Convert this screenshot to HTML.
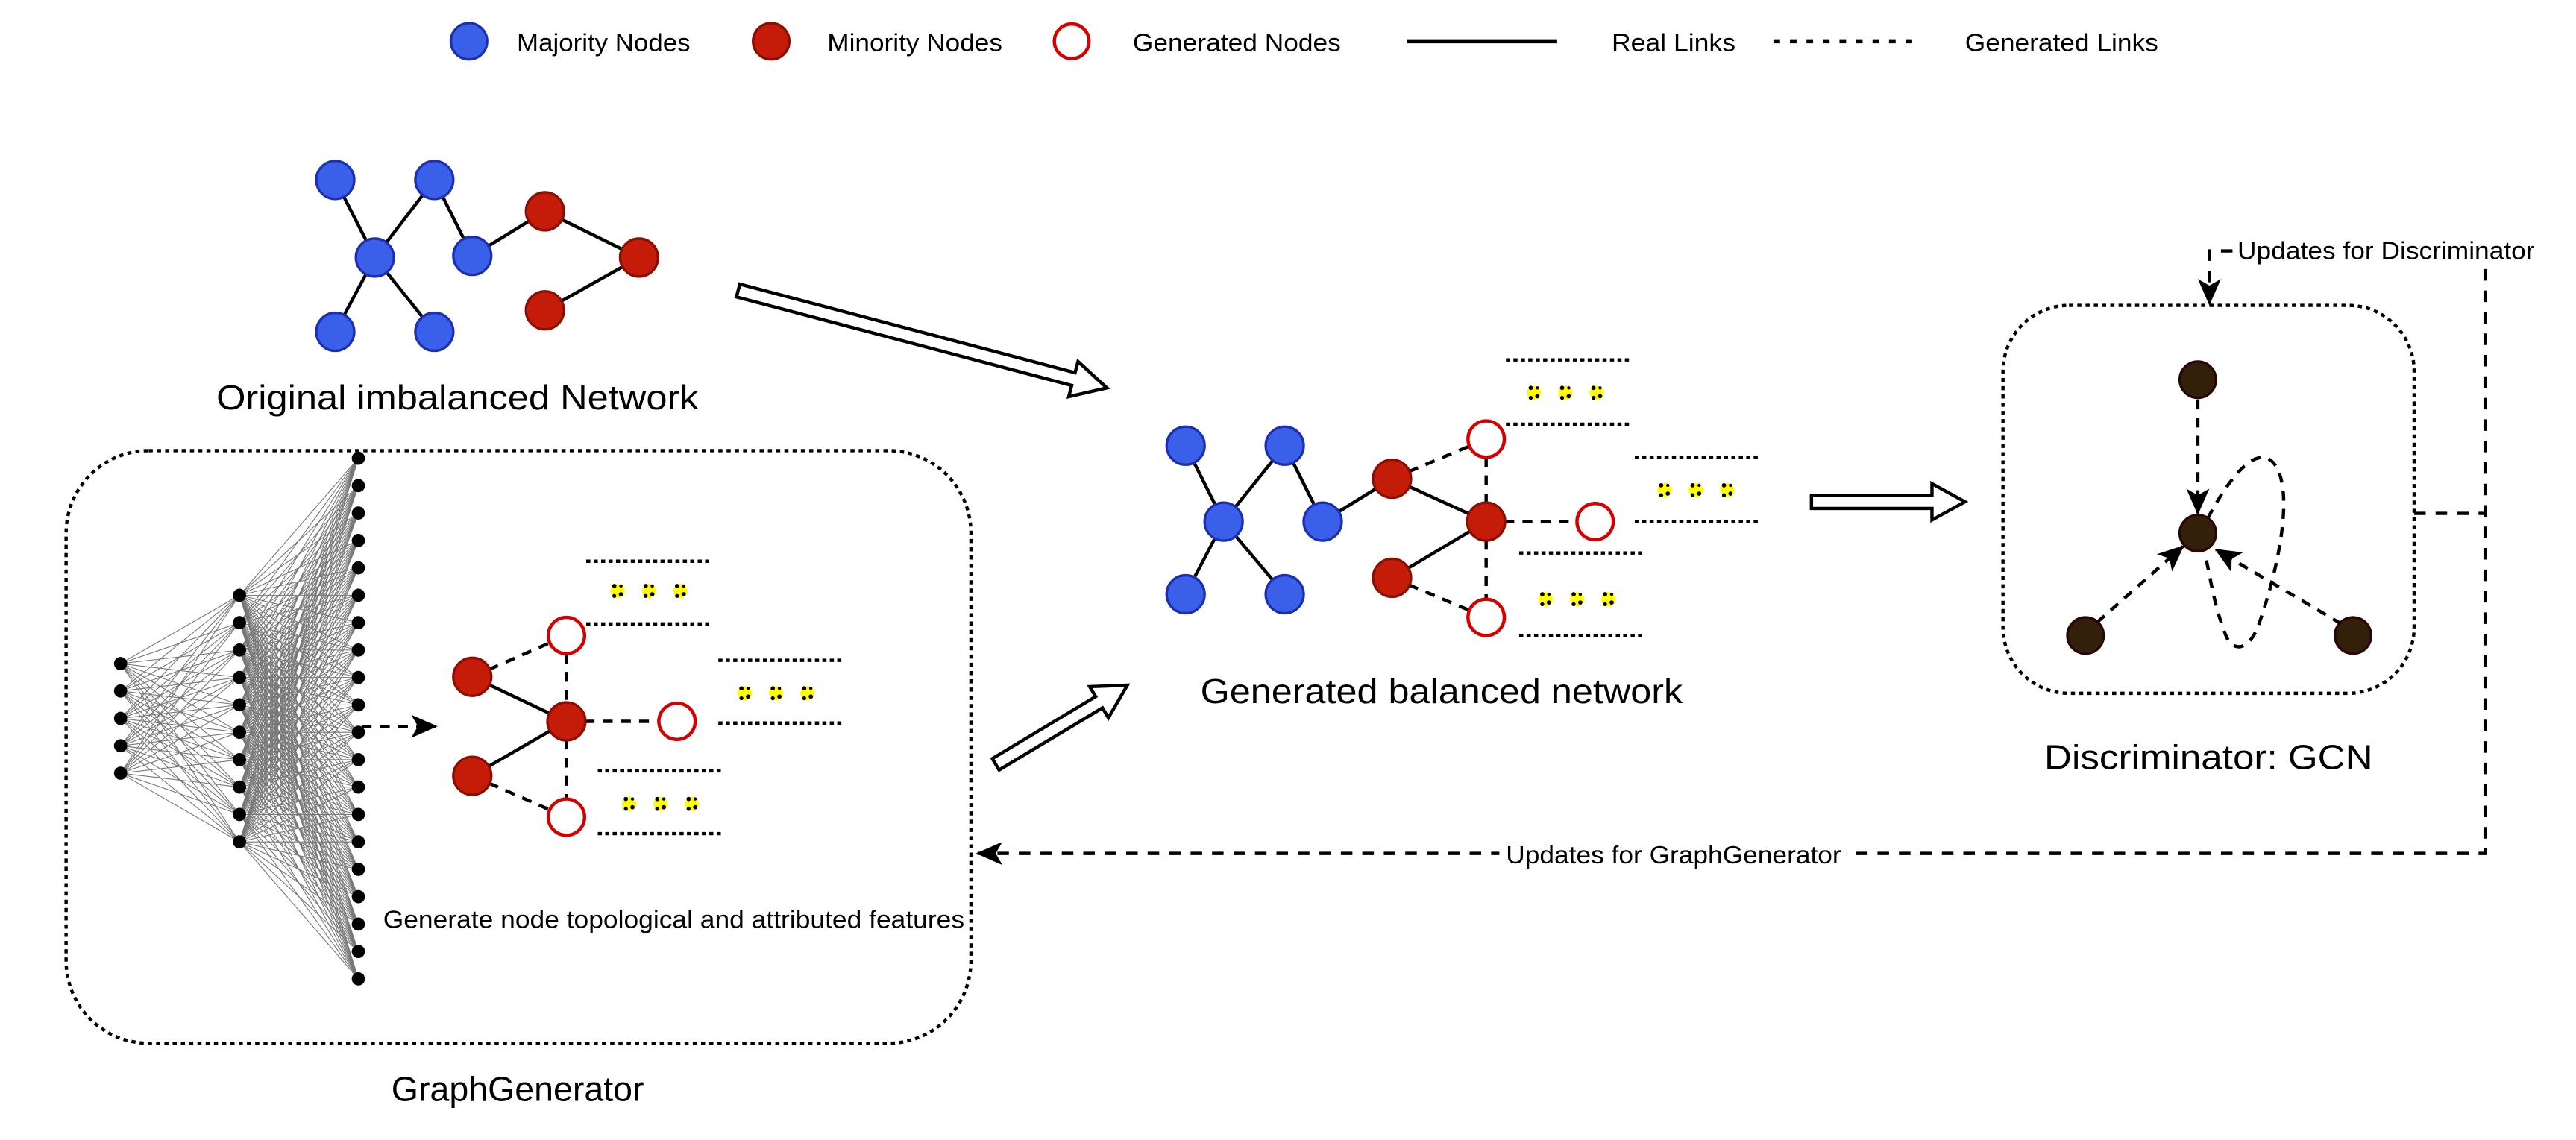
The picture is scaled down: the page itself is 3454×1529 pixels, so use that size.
<!DOCTYPE html>
<html><head><meta charset="utf-8"><style>
html,body{margin:0;padding:0;background:#fff}
svg{display:block}
text{font-family:"Liberation Sans",Arial,sans-serif;fill:#000}
</style></head><body>
<svg width="3454" height="1529" viewBox="0 0 1560 690.6" xmlns="http://www.w3.org/2000/svg">
<defs>
<marker id="ah" viewBox="0 0 16 14" refX="15" refY="7" markerWidth="16" markerHeight="14" markerUnits="userSpaceOnUse" orient="auto">
<path d="M0,0 L16,7 L0,14 L4,7 Z" fill="#000"/></marker>
<g id="stars">
<circle cx="-19" cy="0" r="4.3" fill="#ff0"/><circle cx="0" cy="0" r="4.3" fill="#ff0"/><circle cx="19" cy="0" r="4.3" fill="#ff0"/>
<g fill="#000"><circle cx="-21" cy="-3" r="1.3"/><circle cx="-17" cy="2" r="1.3"/><circle cx="-21" cy="3" r="1.2"/><circle cx="-17" cy="-3" r="1"/>
<circle cx="-2" cy="-3" r="1.3"/><circle cx="2" cy="2" r="1.3"/><circle cx="-2" cy="3" r="1.2"/><circle cx="2" cy="-3" r="1"/>
<circle cx="17" cy="-3" r="1.3"/><circle cx="21" cy="2" r="1.3"/><circle cx="17" cy="3" r="1.2"/><circle cx="21" cy="-3" r="1"/></g>
</g>
</defs>

<!-- Legend -->
<g font-size="15">
<circle cx="284" cy="25" r="11" fill="#3a5fe8" stroke="#1c2fb0" stroke-width="1.5"/>
<text x="313" y="31" textLength="105" lengthAdjust="spacingAndGlyphs">Majority Nodes</text>
<circle cx="467" cy="25" r="11" fill="#c41c08" stroke="#8a0e02" stroke-width="1.5"/>
<text x="501" y="31" textLength="106" lengthAdjust="spacingAndGlyphs">Minority Nodes</text>
<circle cx="649" cy="25" r="10.5" fill="#fff" stroke="#d40000" stroke-width="2"/>
<text x="686" y="31" textLength="126" lengthAdjust="spacingAndGlyphs">Generated Nodes</text>
<line x1="852" y1="25" x2="943" y2="25" stroke="#000" stroke-width="2.5"/>
<text x="976" y="31" textLength="75" lengthAdjust="spacingAndGlyphs">Real Links</text>
<line x1="1074" y1="25" x2="1164" y2="25" stroke="#000" stroke-width="2.5" stroke-dasharray="4,6"/>
<text x="1190" y="31" textLength="117" lengthAdjust="spacingAndGlyphs">Generated Links</text>
</g>

<!-- Original network -->
<g stroke="#000" stroke-width="2">
<line x1="203" y1="109" x2="227" y2="156"/><line x1="263" y1="109" x2="227" y2="156"/>
<line x1="227" y1="156" x2="203" y2="201"/><line x1="227" y1="156" x2="263" y2="201"/>
<line x1="263" y1="109" x2="286" y2="155"/><line x1="286" y1="155" x2="330" y2="128"/>
<line x1="330" y1="128" x2="387" y2="156"/><line x1="387" y1="156" x2="330" y2="188"/>
</g>
<g fill="#3a5fe8" stroke="#1c2fb0" stroke-width="1.5">
<circle cx="203" cy="109" r="11.5"/><circle cx="263" cy="109" r="11.5"/><circle cx="227" cy="156" r="11.5"/>
<circle cx="286" cy="155" r="11.5"/><circle cx="203" cy="201" r="11.5"/><circle cx="263" cy="201" r="11.5"/>
</g>
<g fill="#c41c08" stroke="#8a0e02" stroke-width="1.5">
<circle cx="330" cy="128" r="11.5"/><circle cx="387" cy="156" r="11.5"/><circle cx="330" cy="188" r="11.5"/>
</g>
<text x="131" y="248" font-size="21" textLength="292" lengthAdjust="spacingAndGlyphs">Original imbalanced Network</text>

<!-- Hollow arrows -->
<g fill="#fff" stroke="#000" stroke-width="2">
<g transform="translate(447,176) rotate(14.8)"><polygon points="0,-4 210,-4 210,-11 231,0 210,11 210,4 0,4"/></g>
<g transform="translate(603,463) rotate(-31)"><polygon points="0,-4 73,-4 73,-11 93,0 73,11 73,4 0,4"/></g>
<g transform="translate(1097,304)"><polygon points="0,-4 73,-4 73,-11 93,0 73,11 73,4 0,4"/></g>
</g>

<!-- Generated balanced network -->
<g stroke="#000" stroke-width="2">
<line x1="718" y1="270" x2="741" y2="316"/><line x1="778" y1="270" x2="741" y2="316"/>
<line x1="741" y1="316" x2="718" y2="360"/><line x1="741" y1="316" x2="778" y2="360"/>
<line x1="778" y1="270" x2="801" y2="316"/><line x1="801" y1="316" x2="843" y2="290"/>
<line x1="843" y1="290" x2="900" y2="316"/><line x1="843" y1="350" x2="900" y2="316"/>
</g>
<g stroke="#000" stroke-width="2" stroke-dasharray="6,5">
<line x1="843" y1="290" x2="900" y2="266"/><line x1="900" y1="266" x2="900" y2="316"/>
<line x1="900" y1="316" x2="966" y2="316"/><line x1="900" y1="316" x2="900" y2="374"/>
<line x1="843" y1="350" x2="900" y2="374"/>
</g>
<g fill="#3a5fe8" stroke="#1c2fb0" stroke-width="1.5">
<circle cx="718" cy="270" r="11.5"/><circle cx="778" cy="270" r="11.5"/><circle cx="741" cy="316" r="11.5"/>
<circle cx="801" cy="316" r="11.5"/><circle cx="718" cy="360" r="11.5"/><circle cx="778" cy="360" r="11.5"/>
</g>
<g fill="#c41c08" stroke="#8a0e02" stroke-width="1.5">
<circle cx="843" cy="290" r="11.5"/><circle cx="900" cy="316" r="11.5"/><circle cx="843" cy="350" r="11.5"/>
</g>
<g fill="#fff" stroke="#d40000" stroke-width="2">
<circle cx="900" cy="266" r="11"/><circle cx="966" cy="316" r="11"/><circle cx="900" cy="374" r="11"/>
</g>
<g stroke="#000" stroke-width="2" stroke-dasharray="2.5,2">
<line x1="912" y1="218" x2="987" y2="218"/><line x1="912" y1="257" x2="987" y2="257"/>
<line x1="990" y1="277" x2="1065" y2="277"/><line x1="990" y1="316" x2="1065" y2="316"/>
<line x1="920" y1="335" x2="995" y2="335"/><line x1="920" y1="385" x2="995" y2="385"/>
</g>
<use href="#stars" x="948" y="238"/><use href="#stars" x="1027" y="297"/><use href="#stars" x="955" y="363"/>
<text x="727" y="426" font-size="21" textLength="292" lengthAdjust="spacingAndGlyphs">Generated balanced network</text>

<!-- Discriminator -->
<rect x="1213" y="185" width="249" height="235" rx="40" fill="none" stroke="#000" stroke-width="2" stroke-dasharray="2.5,2.5"/>
<g stroke="#000" stroke-width="2" stroke-dasharray="6,5" fill="none">
<line x1="1331" y1="242" x2="1331" y2="311" marker-end="url(#ah)"/>
<line x1="1270" y1="377" x2="1322" y2="331" marker-end="url(#ah)"/>
<line x1="1418" y1="378" x2="1342" y2="333" marker-end="url(#ah)"/>
<path d="M1337,314 C1355,280 1370,270 1378,282 C1390,300 1378,350 1368,378 C1362,395 1352,395 1348,385 C1340,365 1338,345 1335,335"/>
</g>
<g fill="#33200a" stroke="#2a0505" stroke-width="1.5">
<circle cx="1331" cy="230" r="11"/><circle cx="1331" cy="323" r="11"/>
<circle cx="1263" cy="385" r="11"/><circle cx="1425" cy="385" r="11"/>
</g>
<text x="1238" y="466" font-size="21" textLength="199" lengthAdjust="spacingAndGlyphs">Discriminator: GCN</text>

<!-- Feedback loops -->
<g stroke="#000" stroke-width="2" stroke-dasharray="7,6" fill="none">
<line x1="1462" y1="311" x2="1505" y2="311"/>
<polyline points="1505,163 1505,517 592,517" marker-end="url(#ah)"/>
<polyline points="1352,152 1338,152 1338,184" marker-end="url(#ah)"/>
</g>
<rect x="908" y="509" width="210" height="17" fill="#fff"/>
<text x="912" y="523" font-size="15" textLength="203" lengthAdjust="spacingAndGlyphs">Updates for GraphGenerator</text>
<text x="1355" y="157" font-size="15" textLength="180" lengthAdjust="spacingAndGlyphs">Updates for Discriminator</text>

<!-- GraphGenerator box -->
<rect x="40" y="273" width="548" height="359" rx="50" fill="none" stroke="#000" stroke-width="2" stroke-dasharray="2.5,2.5"/>
<text x="237" y="667" font-size="21" textLength="153" lengthAdjust="spacingAndGlyphs">GraphGenerator</text>

<!-- Neural net -->
<g stroke="#777" stroke-width="0.5" id="nnlines">
</g>
<g id="nnnodes" fill="#000"></g>
<script>
(function(){
var ns="http://www.w3.org/2000/svg";
var L=document.getElementById('nnlines'),N=document.getElementById('nnnodes');
var a=[],b=[],c=[];
for(var i=0;i<5;i++)a.push([73,402+i*16.6]);
for(var i=0;i<10;i++)b.push([145,360.6+i*16.6]);
for(var i=0;i<20;i++)c.push([217,277.6+i*16.6]);
function ln(p,q){var l=document.createElementNS(ns,'line');l.setAttribute('x1',p[0]);l.setAttribute('y1',p[1]);l.setAttribute('x2',q[0]);l.setAttribute('y2',q[1]);L.appendChild(l);}
a.forEach(function(p){b.forEach(function(q){ln(p,q);});});
b.forEach(function(p){c.forEach(function(q){ln(p,q);});});
a.concat(b,c).forEach(function(p){var e=document.createElementNS(ns,'circle');e.setAttribute('cx',p[0]);e.setAttribute('cy',p[1]);e.setAttribute('r',4);N.appendChild(e);});
})();
</script>
<line x1="219" y1="440" x2="264" y2="440" stroke="#000" stroke-width="2" stroke-dasharray="6,5" marker-end="url(#ah)"/>

<!-- Generator graph -->
<g stroke="#000" stroke-width="2">
<line x1="286" y1="410" x2="343" y2="437"/><line x1="286" y1="470" x2="343" y2="437"/>
</g>
<g stroke="#000" stroke-width="2" stroke-dasharray="6,5">
<line x1="286" y1="410" x2="343" y2="385"/><line x1="343" y1="385" x2="343" y2="437"/>
<line x1="343" y1="437" x2="410" y2="437"/><line x1="343" y1="437" x2="343" y2="495"/>
<line x1="286" y1="470" x2="343" y2="495"/>
</g>
<g fill="#c41c08" stroke="#8a0e02" stroke-width="1.5">
<circle cx="286" cy="410" r="11.5"/><circle cx="343" cy="437" r="11.5"/><circle cx="286" cy="470" r="11.5"/>
</g>
<g fill="#fff" stroke="#d40000" stroke-width="2">
<circle cx="343" cy="385" r="11"/><circle cx="410" cy="437" r="11"/><circle cx="343" cy="495" r="11"/>
</g>
<g stroke="#000" stroke-width="2" stroke-dasharray="2.5,2">
<line x1="355" y1="340" x2="430" y2="340"/><line x1="355" y1="378" x2="430" y2="378"/>
<line x1="435" y1="400" x2="510" y2="400"/><line x1="435" y1="438" x2="510" y2="438"/>
<line x1="362" y1="467" x2="437" y2="467"/><line x1="362" y1="505" x2="437" y2="505"/>
</g>
<use href="#stars" x="393" y="358"/><use href="#stars" x="470" y="420"/><use href="#stars" x="400" y="487"/>
<text x="232" y="562" font-size="15" textLength="352" lengthAdjust="spacingAndGlyphs">Generate node topological and attributed features</text>
</svg>
</body></html>
